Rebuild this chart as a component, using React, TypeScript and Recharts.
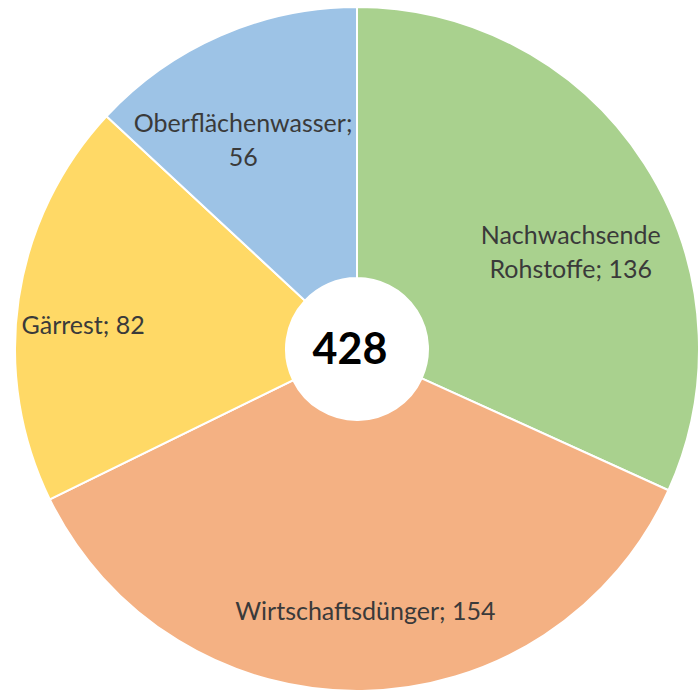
import { PieChart, Pie, Cell, Label } from "recharts";

// Rohstoffeinsatz nach Herkunft; total shown in the hole
const categories = ["Nachwachsende Rohstoffe", "Wirtschaftsdünger", "Gärrest", "Oberflächenwasser"];
const values = [136, 154, 82, 56];
const colors = ["#A9D18E", "#F4B183", "#FFD966", "#9DC3E6"];

// label placement relative to slice mid angle (Excel "best fit" look)
const labelPlacement = [
  { r: 235, dAngle: -8.2, wrap: 15 },
  { r: 261, dAngle: 1, wrap: 40 },
  { r: 275, dAngle: 3.2, wrap: 40 },
  { r: 239, dAngle: 4.9, wrap: 18 },
];

const FONT = "Lato, 'Open Sans', sans-serif";
const RADIAN = Math.PI / 180;

const data = categories.map((name, i) => ({ name, value: values[i] }));
const total = values.reduce((a, b) => a + b, 0);

function wrapWords(text: string, max: number) {
  const lines: string[] = [];
  let cur = "";
  for (const w of text.split(" ")) {
    const next = cur ? cur + " " + w : w;
    if (cur && next.length > max) {
      lines.push(cur);
      cur = w;
    } else cur = next;
  }
  if (cur) lines.push(cur);
  return lines;
}

function SliceLabel(props: any) {
  const { cx, cy, midAngle, index, name, value } = props;
  const p = labelPlacement[index];
  const a = (midAngle + p.dAngle) * RADIAN;
  const x = cx + p.r * Math.cos(-a);
  const y = cy + p.r * Math.sin(-a);
  const lines = wrapWords(`${name}; ${value}`, p.wrap);
  const lh = 34;
  const y0 = y - ((lines.length - 1) * lh) / 2;
  return (
    <text
      x={x}
      y={y0}
      textAnchor="middle"
      dominantBaseline="central"
      fill="#3a3a3a"
      fontFamily={FONT}
      fontSize={25}
    >
      {lines.map((l, k) => (
        <tspan key={k} x={x} y={y0 + k * lh}>
          {l}
        </tspan>
      ))}
    </text>
  );
}

export default function App() {
  return (
    <div style={{ position: "absolute", left: 0, top: 0, width: 700, height: 698, background: "#fff" }}>
      <PieChart width={700} height={698} margin={{ top: 0, right: 0, bottom: 0, left: 0 }}>
        <Pie
          data={data}
          dataKey="value"
          nameKey="name"
          cx={357}
          cy={349}
          innerRadius={71}
          outerRadius={342}
          startAngle={90}
          endAngle={-270}
          stroke="#fff"
          strokeWidth={2}
          label={SliceLabel}
          labelLine={false}
          isAnimationActive={false}
        >
          {data.map((d, i) => (
            <Cell key={d.name} fill={colors[i]} />
          ))}
          <Label
            value={String(total)}
            position="center"
            fill="#000"
            fontFamily={FONT}
            fontSize={43}
            fontWeight="bold"
          />
        </Pie>
      </PieChart>
    </div>
  );
}
